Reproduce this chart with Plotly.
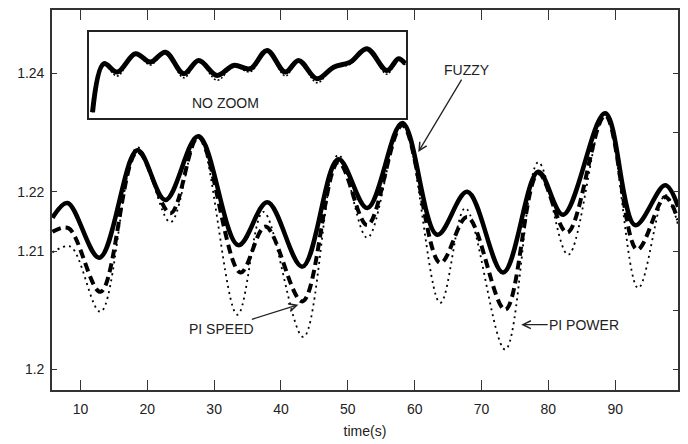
import plotly.graph_objects as go

# ---------------- main chart data ----------------
t_fuzzy = [5.81, 8.06, 12.84, 18.52, 22.71, 27.64, 33.63, 37.96, 43.20, 48.58, 52.92,
           58.15, 63.38, 67.87, 73.25, 78.49, 82.22, 88.50, 92.99, 97.48, 99.42]
v_fuzzy = [1.2205, 1.2225, 1.2151, 1.2296, 1.2229, 1.2315, 1.2168, 1.2226, 1.2139, 1.2284, 1.2218,
           1.2333, 1.2182, 1.2240, 1.2131, 1.2267, 1.2209, 1.2346, 1.2195, 1.2249, 1.2220]

t_speed = [5.81, 8.20, 13.00, 18.52, 23.46, 27.64, 33.93, 37.66, 43.20, 48.58, 52.92,
           58.15, 63.83, 67.87, 73.55, 78.49, 82.82, 88.50, 93.29, 97.48, 99.42]
v_speed = [1.2186, 1.2191, 1.2105, 1.2294, 1.2211, 1.2314, 1.2131, 1.2193, 1.2092, 1.2280, 1.2195,
           1.2330, 1.2144, 1.2206, 1.2081, 1.2265, 1.2185, 1.2343, 1.2162, 1.2233, 1.2202]

t_power = [5.81, 8.50, 13.00, 18.52, 23.46, 27.64, 33.48, 37.36, 43.35, 48.58, 52.92,
           58.15, 63.83, 67.57, 73.55, 78.49, 82.97, 88.50, 93.44, 97.48, 99.42]
v_power = [1.2158, 1.2166, 1.2078, 1.2300, 1.2199, 1.2316, 1.2074, 1.2213, 1.2044, 1.2290, 1.2178,
           1.2334, 1.2090, 1.2218, 1.2027, 1.2280, 1.2155, 1.2346, 1.2110, 1.2236, 1.2195]

x_ticks = [10, 20, 30, 40, 50, 60, 70, 80, 90]
y_tick_vals = [1.2, 1.216, 1.224, 1.24]
y_tick_text = ["1.2", "1.21", "1.22", "1.24"]
y_right_ticks = [1.2, 1.208, 1.216, 1.224, 1.232, 1.24]

# ---------------- inset ("NO ZOOM") data ----------------
t_inset = [0.95, 4.51, 8.74, 14.51, 19.24, 23.97, 29.75, 34.48, 40.28, 45.52, 50.79,
           56.06, 61.83, 66.03, 71.83, 77.07, 82.33, 87.60, 93.91, 97.57, 99.68]
v_inset_fuzzy = [0.098, 0.891, 0.754, 1.053, 0.917, 1.079, 0.728, 0.944, 0.700, 0.863, 0.809,
                 1.107, 0.754, 0.944, 0.646, 0.835, 0.917, 1.136, 0.781, 0.972, 0.891]
v_inset_pi = [0.098, 0.880, 0.690, 1.050, 0.870, 1.075, 0.660, 0.935, 0.620, 0.850, 0.760,
              1.100, 0.690, 0.940, 0.580, 0.830, 0.880, 1.130, 0.720, 0.965, 0.870]

FONT = "Liberation Sans, Arial, sans-serif"
FS = 14
AX = "#333333"

fig = go.Figure()

fig.add_trace(go.Scatter(x=t_power, y=v_power, mode="lines", line_shape="spline",
                         line=dict(color="black", width=1.8, dash="2px,4px"),
                         showlegend=False, hoverinfo="skip"))
fig.add_trace(go.Scatter(x=t_speed, y=v_speed, mode="lines", line_shape="spline",
                         line=dict(color="black", width=4, dash="9px,5px"),
                         showlegend=False, hoverinfo="skip"))
fig.add_trace(go.Scatter(x=t_fuzzy, y=v_fuzzy, mode="lines", line_shape="spline",
                         line=dict(color="black", width=4.5),
                         showlegend=False, hoverinfo="skip"))
# invisible trace carrying the right-hand tick axis
fig.add_trace(go.Scatter(x=t_fuzzy, y=v_fuzzy, yaxis="y3", mode="lines",
                         line=dict(color="rgba(0,0,0,0)", width=0),
                         showlegend=False, hoverinfo="skip"))

# inset
fig.add_trace(go.Scatter(x=t_inset, y=v_inset_pi, xaxis="x2", yaxis="y2", mode="lines",
                         line_shape="spline",
                         line=dict(color="black", width=1.5, dash="2px,2px"),
                         showlegend=False, hoverinfo="skip"))
fig.add_trace(go.Scatter(x=t_inset, y=v_inset_fuzzy, xaxis="x2", yaxis="y2", mode="lines",
                         line_shape="spline",
                         line=dict(color="black", width=5),
                         showlegend=False, hoverinfo="skip"))

fig.update_layout(
    width=680, height=436,
    margin=dict(l=43.5, r=10, t=1.5, b=53.5, autoexpand=False),
    paper_bgcolor="white", plot_bgcolor="white",
    font=dict(family=FONT, size=FS, color="#222222"),
    xaxis=dict(range=[5.74, 99.4], tickvals=x_ticks, ticks="inside", ticklen=10,
               tickwidth=1.3, tickcolor=AX, showline=True, linecolor=AX, linewidth=1.6,
               mirror="ticks", showgrid=False, zeroline=False, automargin=False,
               tickfont=dict(family=FONT, size=FS), ticklabelstandoff=5,
               title=dict(text="time(s)", font=dict(family=FONT, size=FS), standoff=11)),
    yaxis=dict(range=[1.19724, 1.24855], tickvals=y_tick_vals, ticktext=y_tick_text,
               ticks="inside", ticklen=5, tickwidth=1.3, tickcolor=AX,
               showline=True, linecolor=AX, linewidth=1.6, mirror=True, automargin=False,
               showgrid=False, zeroline=False, ticklabelstandoff=3,
               tickfont=dict(family=FONT, size=FS)),
    yaxis3=dict(range=[1.19724, 1.24855], overlaying="y", side="right",
                tickvals=y_right_ticks, ticks="inside", ticklen=5, tickwidth=1.3,
                tickcolor=AX, showticklabels=False, showline=False, automargin=False,
                showgrid=False, zeroline=False),
    xaxis2=dict(domain=[0.0599, 0.5658], anchor="y2", range=[0, 100], automargin=False,
                showline=True, linecolor="#222222", linewidth=1.6, mirror=True,
                ticks="", showticklabels=False, showgrid=False, zeroline=False),
    yaxis2=dict(domain=[0.7148, 0.9409], anchor="x2", range=[0, 1.4], automargin=False,
                showline=True, linecolor="#222222", linewidth=1.6, mirror=True,
                ticks="", showticklabels=False, showgrid=False, zeroline=False),
)

fig.add_annotation(x=42.9, y=0.244, xref="x2", yref="y2", text="NO ZOOM", showarrow=False,
                   font=dict(family=FONT, size=FS, color="#222222"))

arrow_style = dict(showarrow=True, arrowhead=5, arrowsize=1.2, arrowwidth=1.3,
                   arrowcolor="#222222", font=dict(family=FONT, size=FS, color="#222222"))
fig.add_annotation(x=60.54, y=1.22936, xref="x", yref="y", text="FUZZY",
                   ax=49, ay=-82, **arrow_style)
fig.add_annotation(x=42.60, y=1.20875, xref="x", yref="y", text="PI SPEED",
                   ax=-77, ay=24, **arrow_style)
fig.add_annotation(x=75.94, y=1.20606, xref="x", yref="y", text="PI POWER",
                   ax=63, ay=0, **arrow_style)

fig.write_html("out.html")
